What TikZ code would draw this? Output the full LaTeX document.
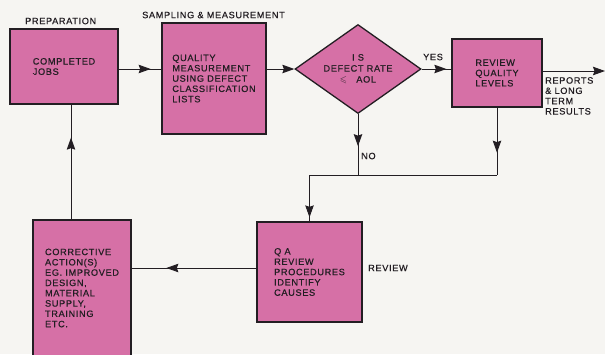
\documentclass[tikz,border=0pt]{standalone}
\usepackage{fontspec}
\usepackage{amssymb}
\setmainfont{Liberation Sans}[LetterSpace=7,FakeBold=0.6]
\usetikzlibrary{shapes.geometric,arrows.meta,decorations.markings}
\definecolor{boxpink}{RGB}{214,112,166}
\definecolor{edge}{RGB}{35,30,35}
\definecolor{paper}{RGB}{246,245,242}
\begin{document}
\begin{tikzpicture}[x=1pt,y=-1pt,
 every node/.style={font=\fontsize{9.2}{10.3}\selectfont, text=edge},
 box/.style={draw=edge, fill=boxpink, line width=1.3pt, align=left, inner sep=0pt},
 dia/.style={diamond, aspect=1.42, draw=edge, fill=boxpink, line width=1.3pt, align=center, inner sep=0pt, minimum width=126pt, minimum height=89pt, font=\fontsize{9.2}{11}\selectfont},
 lbl/.style={inner sep=0pt, align=left, anchor=west},
 conn/.style={draw=edge, line width=0.9pt},
 endtip/.style={-{Stealth[length=12pt,width=8.5pt,inset=1.5pt]}},
 tipmark/.style={postaction={decorate},decoration={markings,mark=at position #1 with {\arrow{Stealth[length=12pt,width=8.5pt,inset=1.5pt]}}}},
]
\fill[paper] (0,0) rectangle (605,354);
\clip (0,0) rectangle (605,354);

% boxes
\node[box, minimum width=108pt, minimum height=75pt] (b1) at (64,66.5) {COMPLETED\\JOBS};
\node[box, minimum width=104pt, minimum height=111pt] (b2) at (214,78.5) {QUALITY\\MEASUREMENT\\USING DEFECT\\CLASSIFICATION\\LISTS};
\node[dia] (d) at (358,69) {I S\\DEFECT RATE\\$\leqslant$\quad AOL};
\node[box, minimum width=90pt, minimum height=68pt] (r) at (497,73) {REVIEW\\QUALITY\\LEVELS};
\node[box, minimum width=105pt, minimum height=100pt] (q) at (309.5,272) {Q A\\REVIEW\\PROCEDURES\\IDENTIFY\\CAUSES};
\node[box, minimum width=98pt, minimum height=136pt] (c) at (82,288) {CORRECTIVE\\ACTION(S)\\EG. IMPROVED\\DESIGN,\\MATERIAL\\SUPPLY,\\TRAINING\\ETC.};

% labels
\node[lbl] (lprep) at (25,21) {PREPARATION};
\node[lbl] (lsamp) at (142,15) {SAMPLING \& MEASUREMENT};
\node[lbl] (lyes) at (423,57) {YES};
\node[lbl] (lno) at (361,156) {NO};
\node[lbl] (lrev) at (368,268) {REVIEW};
\node[lbl, anchor=north west] (lrep) at (545,77) {REPORTS\\\& LONG\\TERM\\RESULTS};

% coordinates
\coordinate (out) at (605,71);
\coordinate (j2) at (497,175);
\coordinate (j1) at (d.south |- j2);
\coordinate (j3) at (j2 -| q.north);

% connectors
\draw[conn, tipmark=32pt] ([yshift=-2.5pt]b1.east) -- ([yshift=-2.5pt]b1.east -| b2.west);
\draw[conn, endtip] (d.west -| b2.east) -- (d.west);
\draw[conn, tipmark=-5pt] (d.east) -- (d.east -| r.west);
\draw[conn, endtip] (r.east |- out) -- (out);
\draw[conn, tipmark=45pt] (r.south) -- (j2);
\draw[conn, tipmark=32pt] (d.south) -- (j1);
\draw[conn] (j2) -- (j3);
\draw[conn, tipmark=-4pt] (j3) -- (q.north);
\draw[conn, tipmark=90pt] ([yshift=4pt]q.west) -- ([yshift=4pt]q.west -| c.east);
\draw[conn, tipmark=-33pt] ([xshift=-11pt]c.north) -- ([xshift=-11pt]c.north |- b1.south);
\end{tikzpicture}
\end{document}
